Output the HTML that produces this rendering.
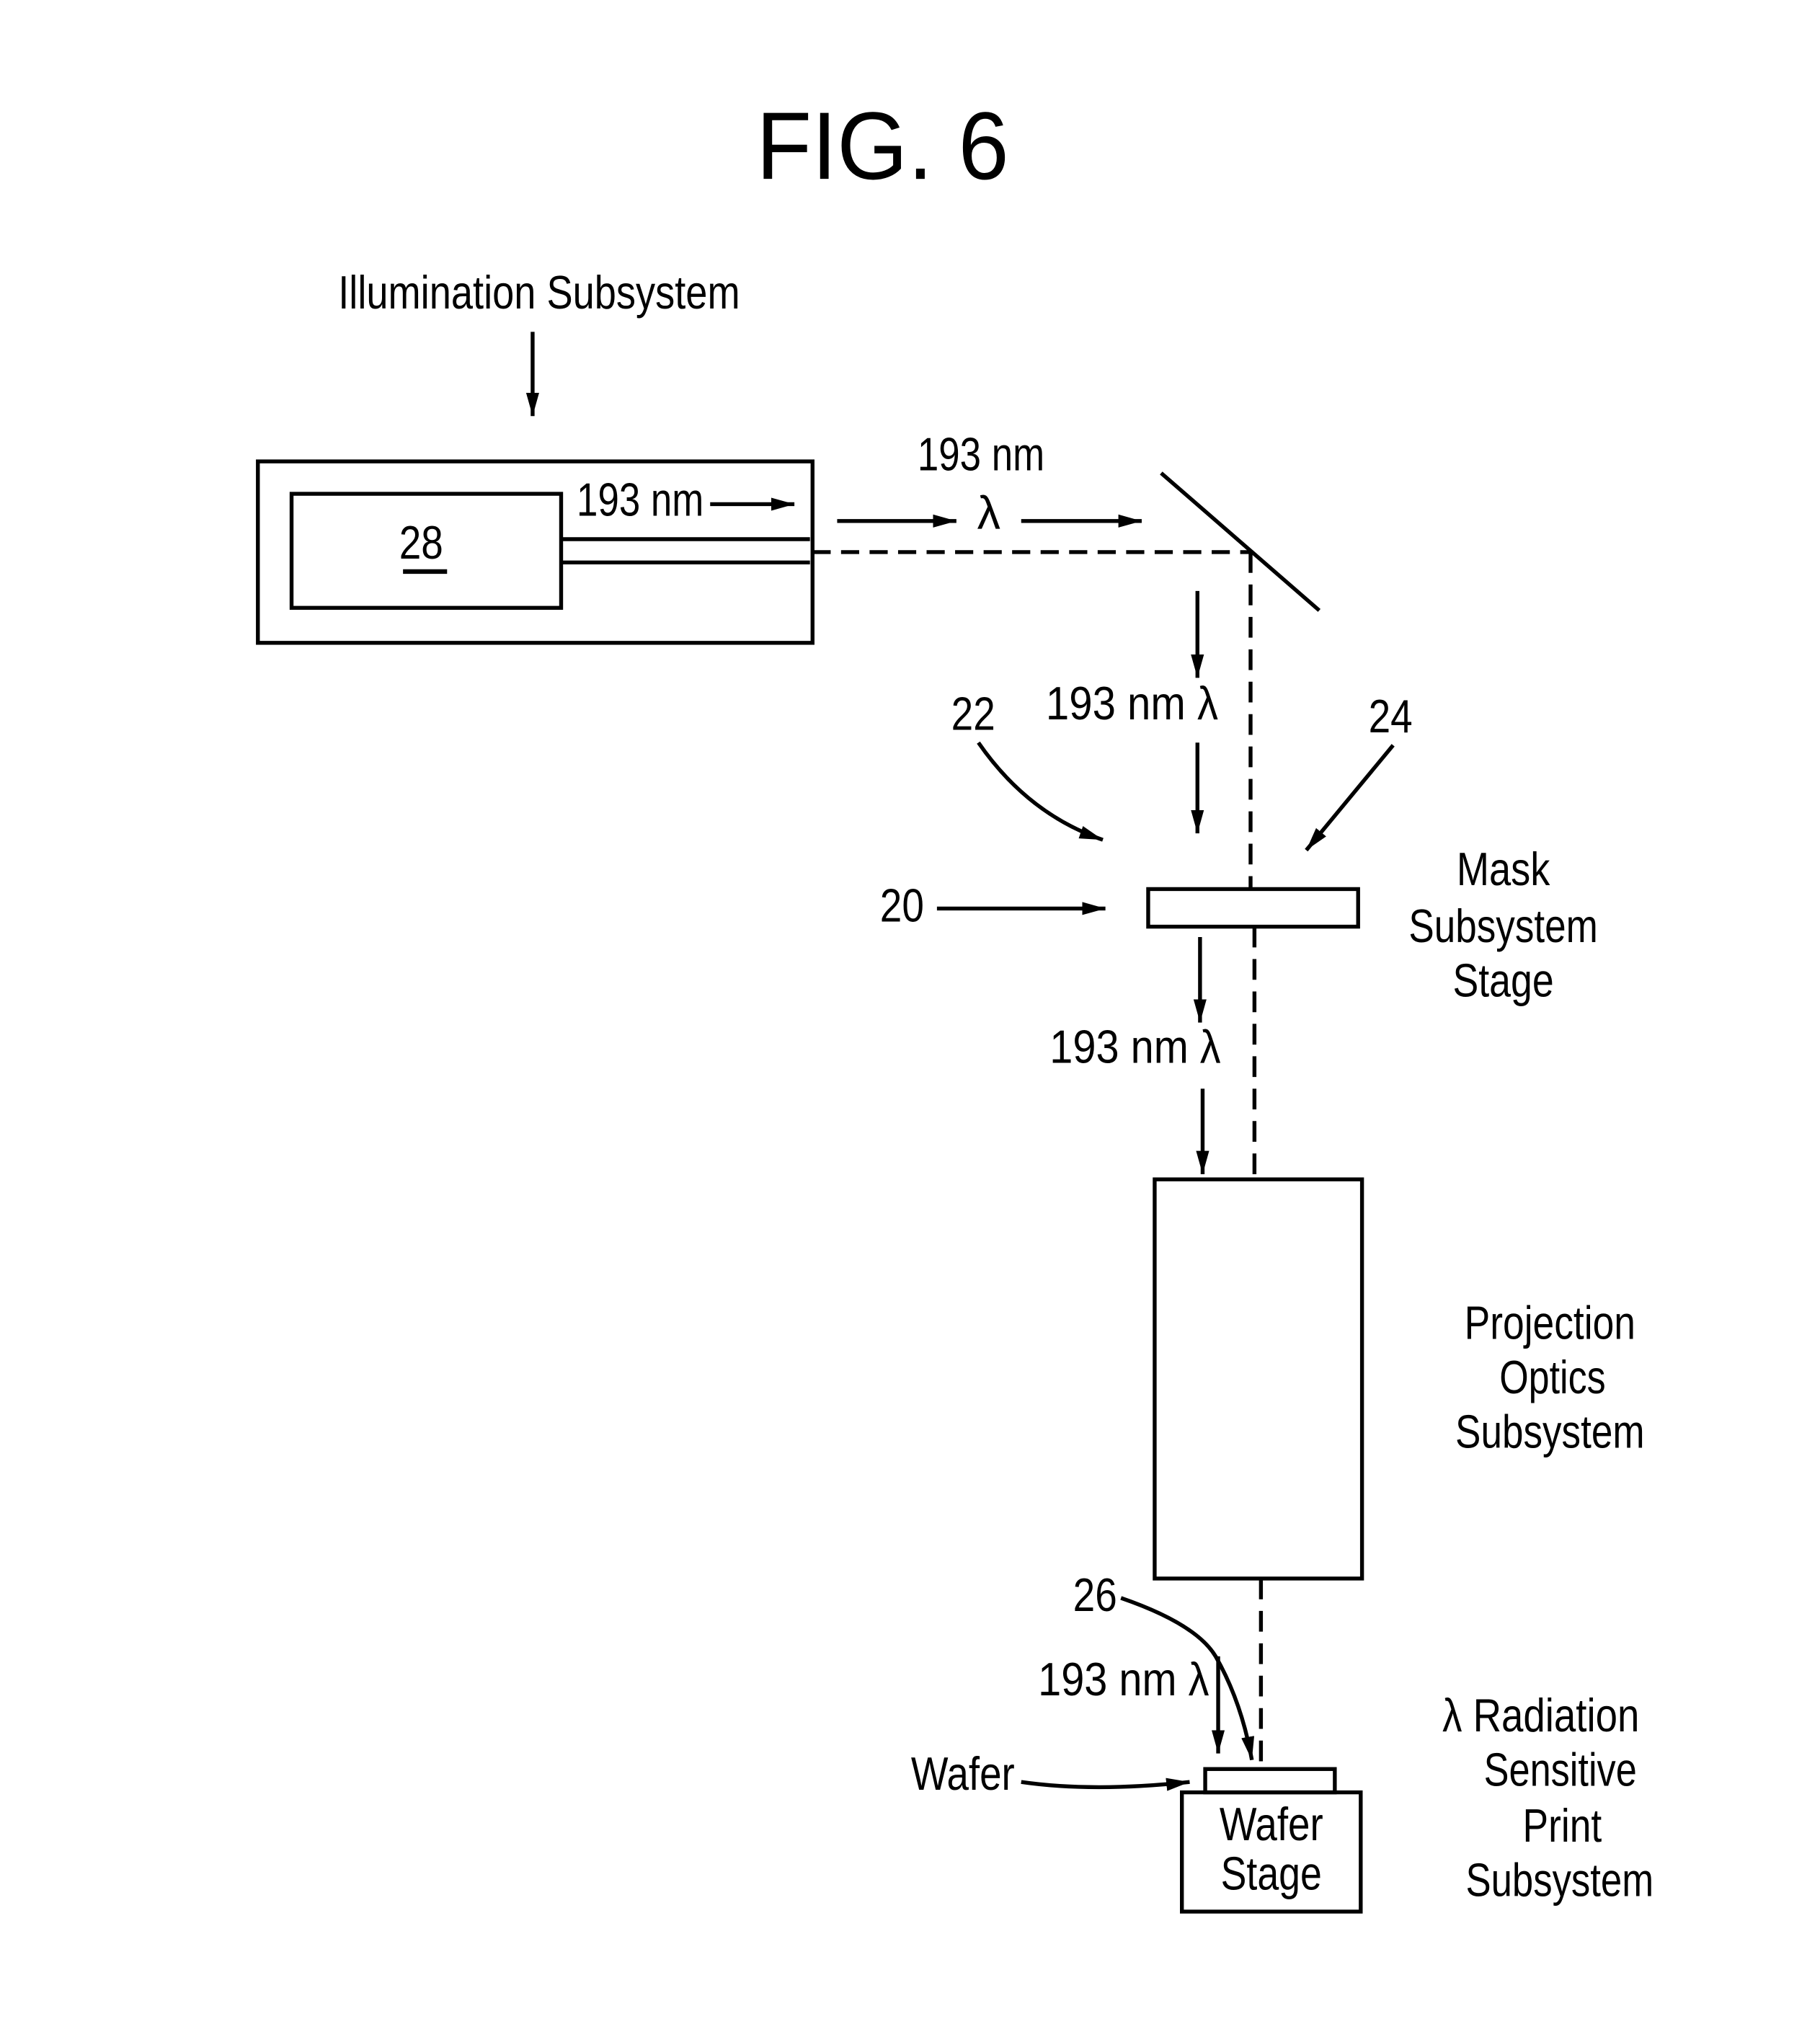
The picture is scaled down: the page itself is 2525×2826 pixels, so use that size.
<!DOCTYPE html>
<html><head><meta charset="utf-8"><style>html,body{margin:0;padding:0;background:#fff}svg{display:block}</style></head>
<body>
<svg width="2525" height="2826" viewBox="0 0 1410 1578" xmlns="http://www.w3.org/2000/svg" font-family="Liberation Sans, sans-serif" fill="#000">
<defs>
<marker id="b" viewBox="0 0 10 10" refX="10" refY="5" markerWidth="18" markerHeight="18" markerUnits="userSpaceOnUse" orient="auto"><path d="M0,2.2 L10,5 L0,7.8 z"/></marker>
</defs>
<g transform="translate(3,3) scale(1.004)">
<g stroke="#000" fill="none" stroke-width="3">
<text x="678" y="135" font-size="74" text-anchor="middle" fill="#000" stroke="none" textLength="195" lengthAdjust="spacingAndGlyphs">FIG. 6</text>
<line x1="408" y1="253" x2="408" y2="318" marker-end="url(#b)"/>
<rect x="196" y="353" width="428" height="140"/>
<rect x="222" y="378" width="208" height="88"/>
<line x1="430" y1="413" x2="622" y2="413"/>
<line x1="430" y1="431" x2="622" y2="431"/>
<line x1="308" y1="438" x2="342" y2="438" stroke-width="3.5"/>
<line x1="545" y1="386" x2="610" y2="386" marker-end="url(#b)"/>
<line x1="624" y1="423" x2="962" y2="423" stroke-dasharray="14,8"/>
<line x1="893" y1="362" x2="1015" y2="468"/>
<line x1="643" y1="399" x2="735" y2="399" marker-end="url(#b)"/>
<line x1="785" y1="399" x2="878" y2="399" marker-end="url(#b)"/>
<line x1="962" y1="423" x2="962" y2="683" stroke-dasharray="16,9"/>
<line x1="921" y1="453" x2="921" y2="520" marker-end="url(#b)"/>
<line x1="921" y1="570" x2="921" y2="640" marker-end="url(#b)"/>
<path d="M752,570 Q790,625 848,645" marker-end="url(#b)"/>
<line x1="1072" y1="572" x2="1005" y2="653" marker-end="url(#b)"/>
<line x1="720" y1="698" x2="850" y2="698" marker-end="url(#b)"/>
<rect x="883" y="683" width="162" height="29"/>
<line x1="965" y1="712" x2="965" y2="907" stroke-dasharray="16,9"/>
<line x1="923" y1="720" x2="923" y2="786" marker-end="url(#b)"/>
<line x1="925" y1="837" x2="925" y2="903" marker-end="url(#b)"/>
<rect x="888" y="907" width="160" height="308"/>
<line x1="970" y1="1215" x2="970" y2="1362" stroke-dasharray="16,9"/>
<path d="M862,1230 Q920,1250 935,1275 Q955,1310 963,1355" marker-end="url(#b)"/>
<line x1="937" y1="1275" x2="937" y2="1350" marker-end="url(#b)"/>
<rect x="927" y="1362" width="100" height="18"/>
<rect x="909" y="1380" width="138" height="92"/>
<path d="M785,1372 Q840,1380 915,1372" marker-end="url(#b)"/>
</g>
<g font-size="36">
<text x="258" y="235" textLength="310" lengthAdjust="spacingAndGlyphs">Illumination Subsystem</text>
<text x="322" y="428" text-anchor="middle" textLength="34" lengthAdjust="spacingAndGlyphs">28</text>
<text x="442" y="395" textLength="98" lengthAdjust="spacingAndGlyphs">193 nm</text>
<text x="705" y="360" textLength="98" lengthAdjust="spacingAndGlyphs">193 nm</text>
<text x="760" y="405" text-anchor="middle">λ</text>
<text x="804" y="552" textLength="133" lengthAdjust="spacingAndGlyphs">193 nm  λ</text>
<text x="748" y="560" text-anchor="middle" textLength="34" lengthAdjust="spacingAndGlyphs">22</text>
<text x="1070" y="562" text-anchor="middle" textLength="34" lengthAdjust="spacingAndGlyphs">24</text>
<text x="693" y="708" text-anchor="middle" textLength="34" lengthAdjust="spacingAndGlyphs">20</text>
<text x="1157" y="680" text-anchor="middle" textLength="72" lengthAdjust="spacingAndGlyphs">Mask</text>
<text x="1157" y="724" text-anchor="middle" textLength="146" lengthAdjust="spacingAndGlyphs">Subsystem</text>
<text x="1157" y="766" text-anchor="middle" textLength="78" lengthAdjust="spacingAndGlyphs">Stage</text>
<text x="807" y="817" textLength="132" lengthAdjust="spacingAndGlyphs">193 nm  λ</text>
<text x="1193" y="1030" text-anchor="middle" textLength="132" lengthAdjust="spacingAndGlyphs">Projection</text>
<text x="1195" y="1072" text-anchor="middle" textLength="82" lengthAdjust="spacingAndGlyphs">Optics</text>
<text x="1193" y="1114" text-anchor="middle" textLength="146" lengthAdjust="spacingAndGlyphs">Subsystem</text>
<text x="842" y="1240" text-anchor="middle" textLength="34" lengthAdjust="spacingAndGlyphs">26</text>
<text x="798" y="1305" textLength="132" lengthAdjust="spacingAndGlyphs">193 nm  λ</text>
<text x="700" y="1378" textLength="80" lengthAdjust="spacingAndGlyphs">Wafer</text>
<text x="978" y="1417" text-anchor="middle" textLength="80" lengthAdjust="spacingAndGlyphs">Wafer</text>
<text x="978" y="1455" text-anchor="middle" textLength="78" lengthAdjust="spacingAndGlyphs">Stage</text>
<text x="1110" y="1333" textLength="152" lengthAdjust="spacingAndGlyphs">λ Radiation</text>
<text x="1142" y="1375" textLength="118" lengthAdjust="spacingAndGlyphs">Sensitive</text>
<text x="1172" y="1418" textLength="61" lengthAdjust="spacingAndGlyphs">Print</text>
<text x="1128" y="1460" textLength="145" lengthAdjust="spacingAndGlyphs">Subsystem</text>
</g>
</g>
</svg>
</body></html>
